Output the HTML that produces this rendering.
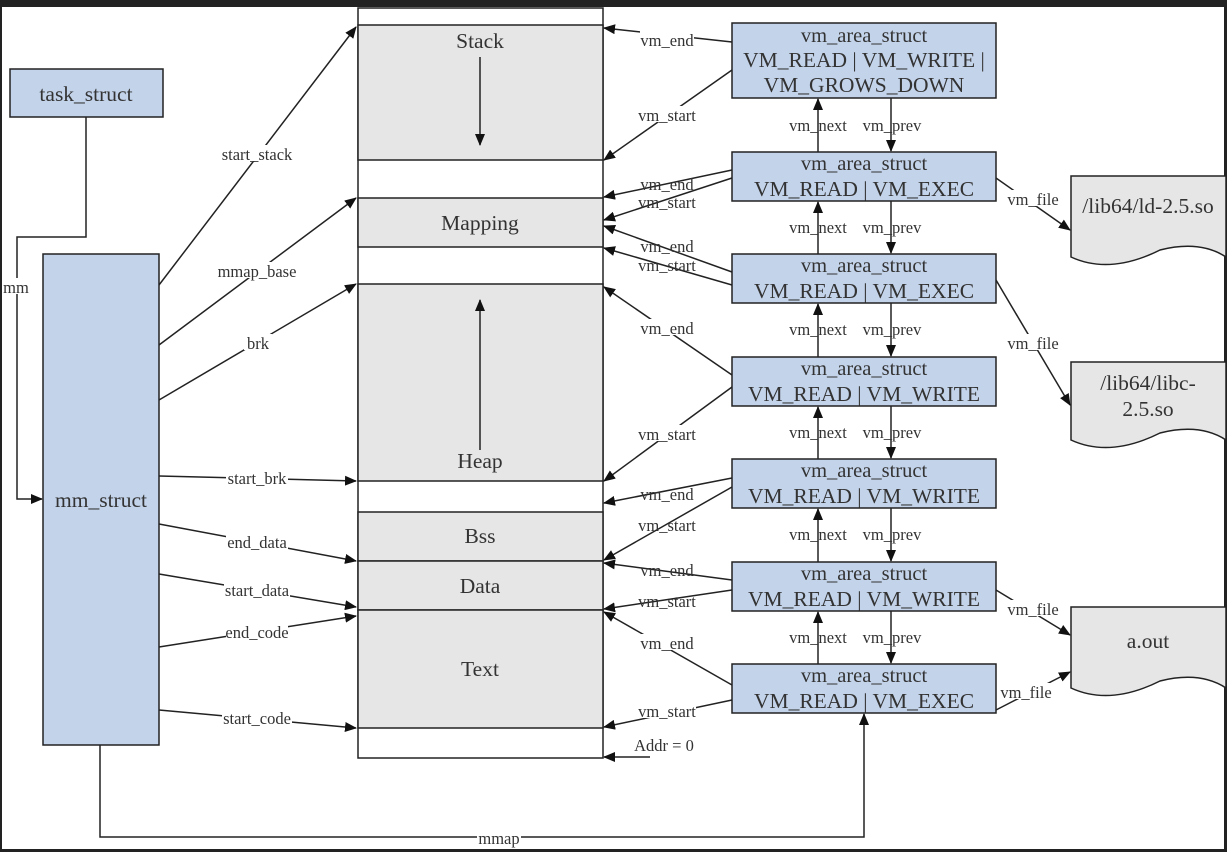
<!DOCTYPE html>
<html><head><meta charset="utf-8"><style>
html,body{margin:0;padding:0;background:#222;}
svg{display:block;}
text{font-family:"Liberation Serif",serif;fill:#333;}
.c{font-size:16.5px;}
.b{font-size:21.5px;}
</style></head><body>
<svg width="1227" height="852" viewBox="0 0 1227 852" xmlns="http://www.w3.org/2000/svg">
<defs>
<marker id="a" markerWidth="12" markerHeight="10" refX="11" refY="5" orient="auto" markerUnits="userSpaceOnUse">
<path d="M0,0 L12,5 L0,10 z" fill="#111"/></marker>
</defs>
<rect x="0" y="0" width="1227" height="852" fill="#222"/>
<rect x="2" y="7" width="1222" height="842" fill="#fff"/>
<g stroke="#222" stroke-width="1.5" fill="none">
<rect x="10" y="69" width="153" height="48" fill="#c3d3ea"/>
<rect x="43" y="254" width="116" height="491" fill="#c3d3ea"/>
<path d="M86,117 V237 H17 V499 H42" marker-end="url(#a)"/>
<rect x="358" y="8" width="245" height="750" fill="#fff"/>
<rect x="358" y="25" width="245" height="135" fill="#e6e6e6"/>
<rect x="358" y="198" width="245" height="49" fill="#e6e6e6"/>
<rect x="358" y="284" width="245" height="197" fill="#e6e6e6"/>
<rect x="358" y="512" width="245" height="49" fill="#e6e6e6"/>
<rect x="358" y="561" width="245" height="49" fill="#e6e6e6"/>
<rect x="358" y="610" width="245" height="118" fill="#e6e6e6"/>
<path d="M480,57 V145" marker-end="url(#a)"/>
<path d="M480,450 V300" marker-end="url(#a)"/>
<path d="M159,285 L356,27" marker-end="url(#a)"/>
<path d="M159,345 L356,198" marker-end="url(#a)"/>
<path d="M159,400 L356,284" marker-end="url(#a)"/>
<path d="M159,476 L356,481" marker-end="url(#a)"/>
<path d="M159,524 L356,561" marker-end="url(#a)"/>
<path d="M159,574 L356,607" marker-end="url(#a)"/>
<path d="M159,647 L356,616" marker-end="url(#a)"/>
<path d="M159,710 L356,728" marker-end="url(#a)"/>
<path d="M100,745 V837 H864 V714" marker-end="url(#a)"/>
<rect x="732" y="23" width="264" height="75" fill="#c3d3ea"/>
<rect x="732" y="152" width="264" height="49" fill="#c3d3ea"/>
<rect x="732" y="254" width="264" height="49" fill="#c3d3ea"/>
<rect x="732" y="357" width="264" height="49" fill="#c3d3ea"/>
<rect x="732" y="459" width="264" height="49" fill="#c3d3ea"/>
<rect x="732" y="562" width="264" height="49" fill="#c3d3ea"/>
<rect x="732" y="664" width="264" height="49" fill="#c3d3ea"/>
<path d="M818,152 V99" marker-end="url(#a)"/><path d="M891,98 V151" marker-end="url(#a)"/>
<path d="M818,254 V202" marker-end="url(#a)"/><path d="M891,201 V253" marker-end="url(#a)"/>
<path d="M818,357 V304" marker-end="url(#a)"/><path d="M891,303 V356" marker-end="url(#a)"/>
<path d="M818,459 V407" marker-end="url(#a)"/><path d="M891,406 V458" marker-end="url(#a)"/>
<path d="M818,562 V509" marker-end="url(#a)"/><path d="M891,508 V561" marker-end="url(#a)"/>
<path d="M818,664 V612" marker-end="url(#a)"/><path d="M891,611 V663" marker-end="url(#a)"/>
<path d="M732,42 L604,28" marker-end="url(#a)"/>
<path d="M732,70 L604,160" marker-end="url(#a)"/>
<path d="M732,170 L604,197" marker-end="url(#a)"/>
<path d="M732,178 L604,220" marker-end="url(#a)"/>
<path d="M732,272 L604,226" marker-end="url(#a)"/>
<path d="M732,285 L604,248" marker-end="url(#a)"/>
<path d="M732,375 L604,287" marker-end="url(#a)"/>
<path d="M732,387 L604,481" marker-end="url(#a)"/>
<path d="M732,478 L604,503" marker-end="url(#a)"/>
<path d="M732,487 L604,560" marker-end="url(#a)"/>
<path d="M732,580 L604,563" marker-end="url(#a)"/>
<path d="M732,590 L604,609" marker-end="url(#a)"/>
<path d="M732,685 L604,612" marker-end="url(#a)"/>
<path d="M732,700 L604,727" marker-end="url(#a)"/>
<path d="M650,757 L604,757" marker-end="url(#a)"/>
<path d="M1071,176 H1226 V257 Q1200,240 1160,250 Q1110,275 1071,257 Z" fill="#e6e6e6"/>
<path d="M1071,362 H1226 V440 Q1200,423 1160,433 Q1110,458 1071,440 Z" fill="#e6e6e6"/>
<path d="M1071,607 H1226 V688 Q1200,671 1160,681 Q1110,706 1071,688 Z" fill="#e6e6e6"/>
<path d="M996,178 L1070,230" marker-end="url(#a)"/>
<path d="M996,280 L1070,405" marker-end="url(#a)"/>
<path d="M996,590 L1070,635" marker-end="url(#a)"/>
<path d="M996,710 L1070,672" marker-end="url(#a)"/>
</g>
<g class="c" text-anchor="middle">
<g stroke="none">
<rect x="218" y="145" width="78" height="16" fill="#fff"/><rect x="216" y="262" width="82" height="16" fill="#fff"/>
<rect x="244" y="334" width="28" height="16" fill="#fff"/><rect x="226" y="469" width="62" height="16" fill="#fff"/>
<rect x="226" y="533" width="62" height="16" fill="#fff"/><rect x="224" y="581" width="66" height="16" fill="#fff"/>
<rect x="226" y="623" width="62" height="16" fill="#fff"/><rect x="222" y="709" width="70" height="16" fill="#fff"/>
<rect x="477" y="829" width="44" height="16" fill="#fff"/><rect x="4" y="278" width="26" height="16" fill="#fff"/>
<rect x="640" y="31" width="54" height="16" fill="#fff"/><rect x="638" y="106" width="58" height="16" fill="#fff"/>
<rect x="638" y="319" width="58" height="16" fill="#fff"/><rect x="638" y="425" width="58" height="16" fill="#fff"/>
<rect x="638" y="634" width="58" height="16" fill="#fff"/><rect x="638" y="702" width="58" height="16" fill="#fff"/>
<rect x="1007" y="190" width="52" height="16" fill="#fff"/><rect x="1007" y="334" width="52" height="16" fill="#fff"/>
<rect x="1007" y="600" width="52" height="16" fill="#fff"/><rect x="1000" y="683" width="52" height="16" fill="#fff"/>
</g>
<text x="257" y="160">start_stack</text><text x="257" y="277">mmap_base</text><text x="258" y="349">brk</text>
<text x="257" y="484">start_brk</text><text x="257" y="548">end_data</text><text x="257" y="596">start_data</text>
<text x="257" y="638">end_code</text><text x="257" y="724">start_code</text><text x="499" y="844">mmap</text>
<text x="16" y="293">mm</text>
<text x="667" y="46">vm_end</text><text x="667" y="121">vm_start</text>
<text x="667" y="190">vm_end</text><text x="667" y="208">vm_start</text>
<text x="667" y="252">vm_end</text><text x="667" y="271">vm_start</text>
<text x="667" y="334">vm_end</text><text x="667" y="440">vm_start</text>
<text x="667" y="500">vm_end</text><text x="667" y="531">vm_start</text>
<text x="667" y="576">vm_end</text><text x="667" y="607">vm_start</text>
<text x="667" y="649">vm_end</text><text x="667" y="717">vm_start</text>
<text x="664" y="751">Addr = 0</text>
<text x="1033" y="205">vm_file</text><text x="1033" y="349">vm_file</text>
<text x="1033" y="615">vm_file</text><text x="1026" y="698">vm_file</text>
<text x="818" y="131">vm_next</text><text x="892" y="131">vm_prev</text>
<text x="818" y="233">vm_next</text><text x="892" y="233">vm_prev</text>
<text x="818" y="335">vm_next</text><text x="892" y="335">vm_prev</text>
<text x="818" y="438">vm_next</text><text x="892" y="438">vm_prev</text>
<text x="818" y="540">vm_next</text><text x="892" y="540">vm_prev</text>
<text x="818" y="643">vm_next</text><text x="892" y="643">vm_prev</text>
</g>
<g class="b" text-anchor="middle">
<text x="86" y="101">task_struct</text><text x="101" y="507">mm_struct</text>
<text x="480" y="48">Stack</text><text x="480" y="230">Mapping</text><text x="480" y="468">Heap</text>
<text x="480" y="543">Bss</text><text x="480" y="593">Data</text><text x="480" y="676">Text</text>
<text x="1148" y="213">/lib64/ld-2.5.so</text>
<text x="1148" y="390">/lib64/libc-</text><text x="1148" y="416">2.5.so</text>
<text x="1148" y="648">a.out</text>
<text x="864" y="42" font-size="20.5">vm_area_struct</text>
<text x="864" y="67">VM_READ | VM_WRITE |</text>
<text x="864" y="92">VM_GROWS_DOWN</text>
<text x="864" y="170" font-size="20.5">vm_area_struct</text><text x="864" y="196">VM_READ | VM_EXEC</text>
<text x="864" y="272" font-size="20.5">vm_area_struct</text><text x="864" y="298">VM_READ | VM_EXEC</text>
<text x="864" y="375" font-size="20.5">vm_area_struct</text><text x="864" y="401">VM_READ | VM_WRITE</text>
<text x="864" y="477" font-size="20.5">vm_area_struct</text><text x="864" y="503">VM_READ | VM_WRITE</text>
<text x="864" y="580" font-size="20.5">vm_area_struct</text><text x="864" y="606">VM_READ | VM_WRITE</text>
<text x="864" y="682" font-size="20.5">vm_area_struct</text><text x="864" y="708">VM_READ | VM_EXEC</text>
</g>
</svg>
</body></html>
